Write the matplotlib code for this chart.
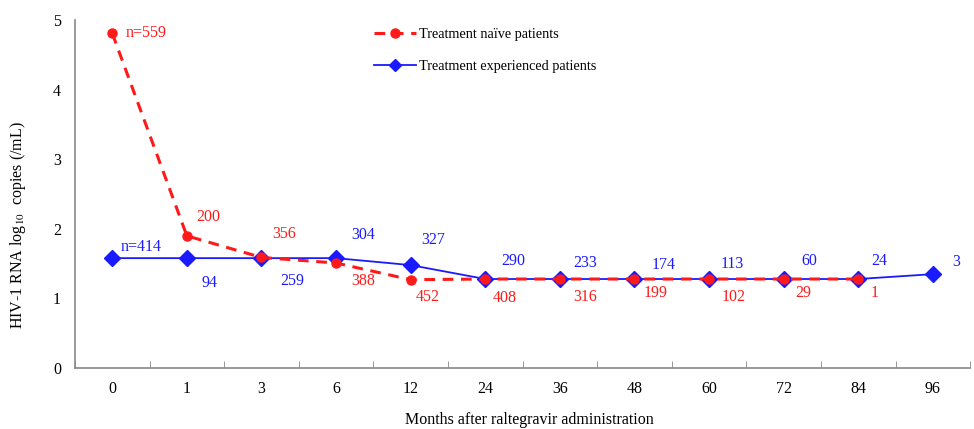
import matplotlib.pyplot as plt
from matplotlib.lines import Line2D

plt.rcParams['font.family'] = ['Liberation Serif', 'DejaVu Serif']
plt.rcParams['mathtext.fontset'] = 'stix'

months = ['0', '1', '3', '6', '12', '24', '36', '48', '60', '72', '84', '96']
naive = [4.81, 1.90, 1.59, 1.51, 1.27, 1.28, 1.28, 1.28, 1.28, 1.28, 1.28]
experienced = [1.58, 1.58, 1.58, 1.58, 1.48, 1.28, 1.28, 1.28, 1.28, 1.28, 1.28, 1.35]
naive_n = ['n=559', '200', '356', '388', '452', '408', '316', '199', '102', '29', '1']
exper_n = ['n=414', '94', '259', '304', '327', '290', '233', '174', '113', '60', '24', '3']

# label offsets in pixels (dx, dy) from each point
naive_off = [(13, 0), (9, 19), (11, 23), (15, -18), (5, -17), (7, -19),
             (13, -18), (9, -14), (13, -18), (12, -14), (12, -14)]
exper_off = [(8, 11), (15, -25), (19, -23), (15, 23), (11, 25), (16, 18),
             (13, 16), (17, 14), (12, 15), (18, 18), (13, 18), (19, 12)]

red = '#ff1a1a'
blue = '#1a1aff'
fs = 11.5

fig = plt.figure(figsize=(9.74, 4.29), dpi=100)
ax = fig.add_axes([0.077, 0.142, 0.919, 0.811])

xe = range(len(experienced))
xn = range(len(naive))
ax.plot(xe, experienced, color=blue, lw=1.3, marker='D', ms=8,
        zorder=3)
ax.plot(xn, naive, color=red, lw=2.2, ls=(0, (3.5, 2.5)), marker='o', ms=6.5,
        zorder=4)

for i, (lab, off) in enumerate(zip(naive_n, naive_off)):
    ax.annotate(lab, (i, naive[i]), xytext=off, textcoords='offset pixels',
                ha='left', va='center', color=red, fontsize=fs)
for i, (lab, off) in enumerate(zip(exper_n, exper_off)):
    ax.annotate(lab, (i, experienced[i]), xytext=off, textcoords='offset pixels',
                ha='left', va='center', color=blue, fontsize=fs)

ax.set_xlim(-0.5, len(months) - 0.5)
ax.set_ylim(0, 5)
ax.set_xticks(range(len(months)))
ax.set_xticklabels(months)
ax.set_xticks([i + 0.5 for i in range(-1, len(months))], minor=True)
ax.tick_params(axis='x', which='major', length=0, pad=9, labelsize=fs)
ax.tick_params(axis='x', which='minor', direction='in', length=5, color='#888888')
ax.set_yticks(range(6))
ax.tick_params(axis='y', length=0, pad=10, labelsize=fs)

for s in ['top', 'right']:
    ax.spines[s].set_visible(False)
for s in ['left', 'bottom']:
    ax.spines[s].set_color('#888888')
    ax.spines[s].set_linewidth(1.2)

ax.set_ylabel('HIV-1 RNA log$_{10}$  copies (/mL)', fontsize=fs)
ax.yaxis.set_label_coords(-0.053, 0.41)
fig.text(0.543, 0.021, 'Months after raltegravir administration',
         ha='center', va='center', fontsize=fs)

handles = [
    Line2D([], [], color=red, lw=2.2, ls=(0, (3.5, 2.5)), marker='o', ms=6.5),
    Line2D([], [], color=blue, lw=1.3, marker='D', ms=6),
]
ax.legend(handles, ['Treatment naïve patients', 'Treatment experienced patients'],
          loc='upper left', bbox_to_anchor=(0.32, 1.015), frameon=False,
          fontsize=10.3, handlelength=2.9, handletextpad=0.2, labelspacing=1.35)

fig.savefig('out.png', dpi=100)
